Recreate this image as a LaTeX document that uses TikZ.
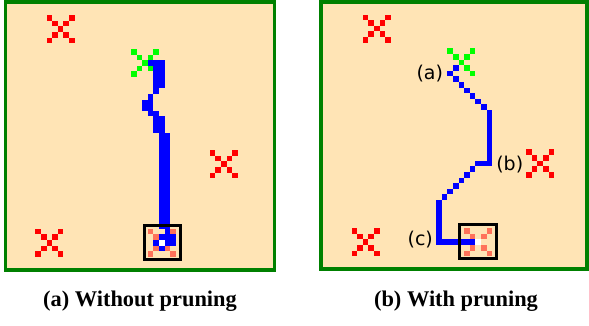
\documentclass[tikz,border=0pt]{standalone}
\usepackage{fontspec}
\setmainfont{Liberation Serif}
\newfontfamily\lblfont{DejaVu Sans}
\definecolor{sandfill}{RGB}{255, 228, 181}
\definecolor{framegreen}{RGB}{0, 128, 0}
\definecolor{goalred}{RGB}{255, 114, 90}
\tikzset{
    gridcell/.style={x=5.63pt, y=-5.62pt},
    panelframe/.style={draw=framegreen, fill=sandfill, line width=3.5pt},
    goalbox/.style={draw=black, line width=2.7pt},
    trail/.style={fill=blue},
    lbl/.style={font=\lblfont\fontsize{19}{22}\selectfont, inner sep=0pt},
    caption/.style={font=\bfseries\fontsize{22.4}{26}\selectfont},
    cross/.pic={
        \foreach \cx/\cy in {0/0, 4/0, 1/1, 3/1, 2/2, 1/3, 3/3, 0/4, 4/4}
            \fill[pic actions] (\cx, \cy) rectangle ++(1, 1);
    },
    field/.pic={
        \pic[fill=red] at (7, 2) {cross};
        \pic[fill=red] at (36, 26) {cross};
        \pic[fill=red] at (5, 40) {cross};
        \pic[fill=green] at (22, 8) {cross};
        \pic[fill=goalred] at (25, 40) {cross};
    },
}

\begin{document}
\begin{tikzpicture}[x=1pt, y=-1pt]
    \useasboundingbox (0, 0) rectangle (589, 325);
    \coordinate (leftorigin) at (7.1, 4);
    \coordinate (rightorigin) at (323.4, 3.3);
    % (a) without pruning
    \begin{scope}[shift={(leftorigin)}, gridcell]
        \draw[panelframe] (-0.28, -0.36) rectangle (47.5, 47.3);
        \pic {field};
        \foreach \xa/\ya/\xb/\yb in {25/10/28/11, 26/11/28/15, 26/15/27/16,
                25/16/26/17, 24/17/26/19, 25/19/27/20, 26/20/28/23,
                27/23/29/40, 28/40/29/41, 27/41/30/42, 26/42/27/43,
                28/42/30/43, 27/43/28/44}
            \fill[trail] (\xa, \ya) rectangle (\xb, \yb);
        \fill[white] (27, 42) rectangle ++(1, 1);
        \draw[goalbox] (24.4, 39.4) rectangle (30.75, 45.45);
    \end{scope}
    % (b) with pruning
    \begin{scope}[shift={(rightorigin)}, gridcell]
        \draw[panelframe] (-0.43, -0.23) rectangle (46.8, 47.3);
        \pic {field};
        \foreach \cx/\cy in {23/11, 22/12, 23/13, 24/14, 25/15, 26/16, 27/17,
                28/18, 26/29, 25/30, 24/31, 23/32, 22/33, 21/34}
            \fill[trail] (\cx, \cy) rectangle ++(1, 1);
        \foreach \xa/\ya/\xb/\yb in {29/19/30/29, 27/28/29/29, 20/35/21/43,
                21/42/27/43}
            \fill[trail] (\xa, \ya) rectangle (\xb, \yb);
        \fill[white] (27, 42) rectangle ++(1, 1);
        \draw[goalbox] (24.15, 39.4) rectangle (30.75, 45.45);
        \node[lbl] (marka) at (18.9, 12.45) {(a)};
        \node[lbl] (markb) at (33.1, 28.6) {(b)};
        \node[lbl] (markc) at (17.2, 42.1) {(c)};
    \end{scope}
    \node[caption] (capleft) at (140, 301) {(a) Without pruning};
    \node[caption] (capright) at (456, 301) {(b) With pruning};
\end{tikzpicture}
\end{document}
